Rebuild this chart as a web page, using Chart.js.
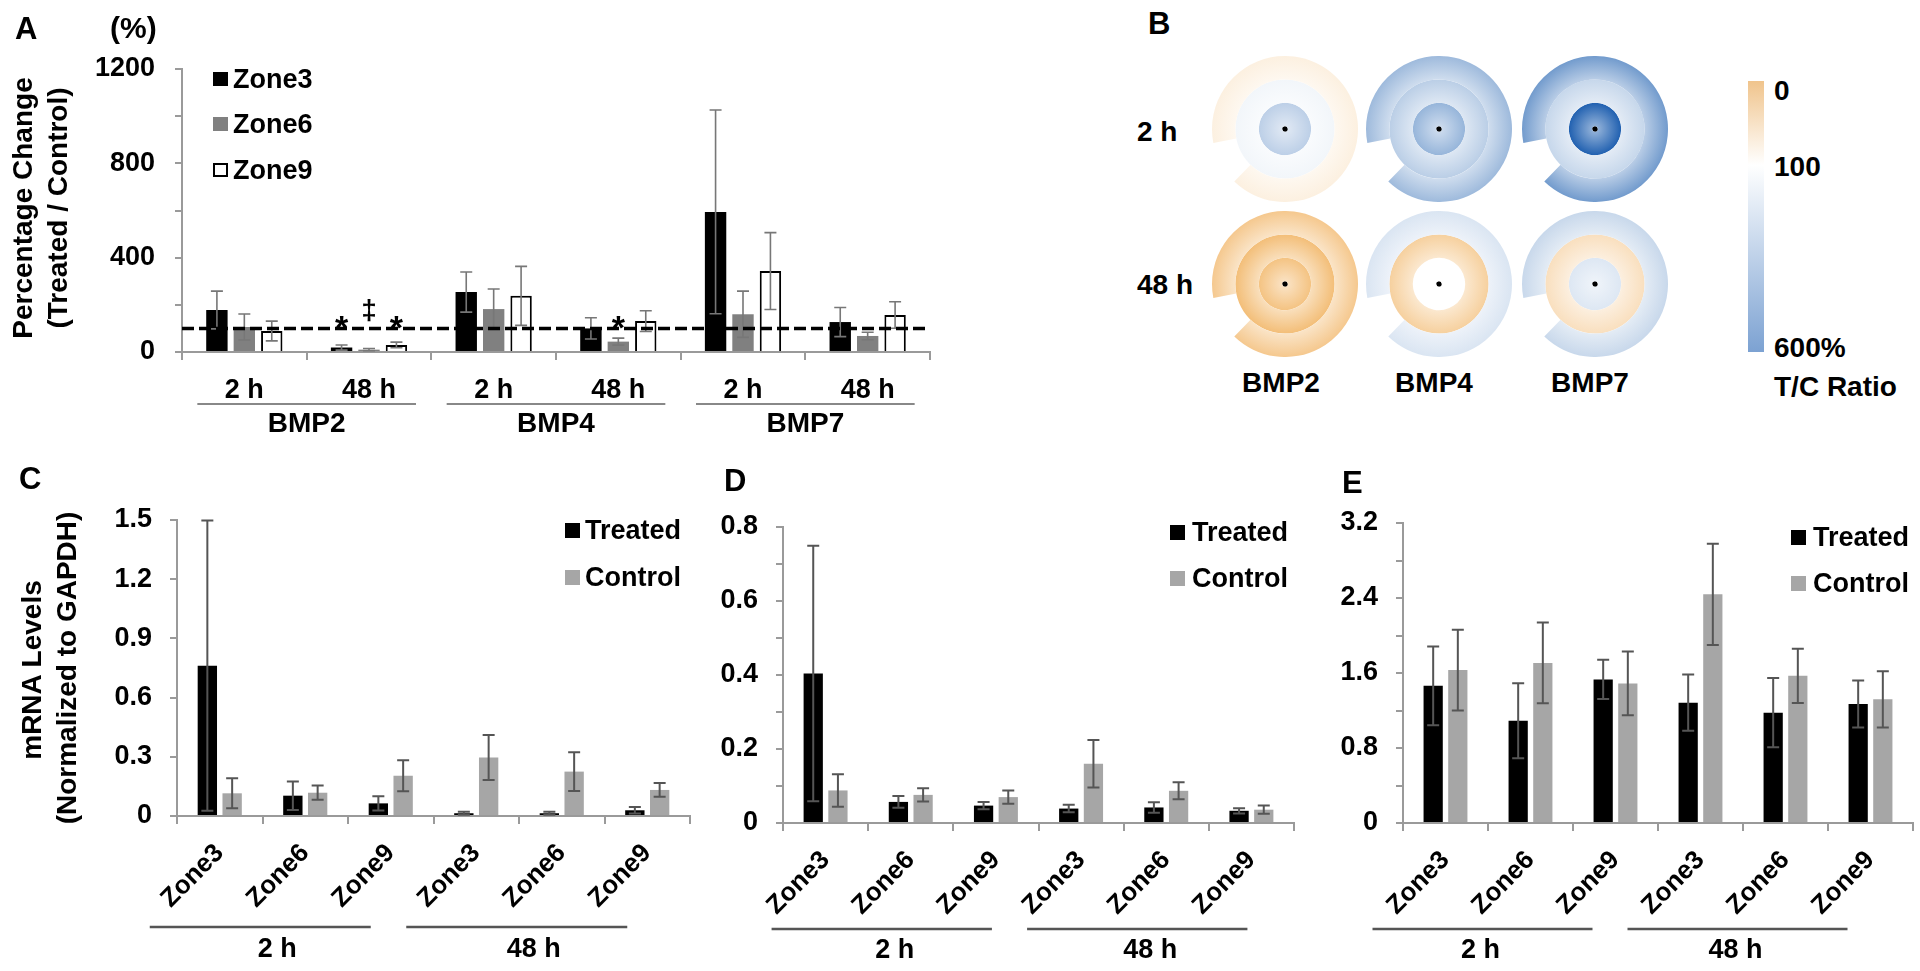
<!DOCTYPE html>
<html>
<head>
<meta charset="utf-8">
<script src="https://cdn.jsdelivr.net/npm/chart.js@4.4.1/dist/chart.umd.min.js"></script>
<style>
  html, body { margin: 0; padding: 0; background: #fff; }
  body { position: relative; width: 1920px; height: 971px; overflow: hidden;
         font-family: "Liberation Sans", Arial, Helvetica, sans-serif; font-weight: bold; color: #000; }
  .pane { position: absolute; }
  .pane canvas { display: block; }
  .txt { position: absolute; white-space: nowrap; line-height: 1; }
  .sq { position: absolute; box-sizing: border-box; }
</style>
</head>
<body>
<script>
// ---------- Panel A : percentage change (treated / control)
const aTimes = ["2 h", "48 h", "2 h", "48 h", "2 h", "48 h"];
const aGroups = ["BMP2", "BMP4", "BMP7"];
const aZone3 = [178, 19, 254, 100, 594, 127];
const aZone3Err = [80, 11, 85, 45, 432, 62];
const aZone6 = [106, 10, 182, 44, 160, 68];
const aZone6Err = [55, 5, 85, 15, 98, 16];
const aZone9 = [89, 30, 238, 131, 343, 157];
const aZone9Err = [42, 12, 125, 44, 163, 56];
const aTicks = ["0", "400", "800", "1200"];
const aMarks = [[1, 0, "*"], [1, 1, "‡"], [1, 2, "*"], [3, 1, "*"]]; // [category, series, symbol]

// ---------- Panel B : T/C ratio maps (rings from centre out: Zone3, Zone6, Zone9, same values as A)
const bDrugs = ["BMP2", "BMP4", "BMP7"];
const bTimes = ["2 h", "48 h"];
const bScale = ["0", "100", "600%"];

// ---------- Panels C, D, E : mRNA levels (normalized to GAPDH)
const zones = ["Zone3", "Zone6", "Zone9", "Zone3", "Zone6", "Zone9"];
const times = ["2 h", "48 h"];

const cTreated = [0.762, 0.103, 0.064, 0.014, 0.014, 0.029];
const cTreatedErr = [0.735, 0.072, 0.036, 0.008, 0.008, 0.016];
const cControl = [0.115, 0.118, 0.204, 0.296, 0.225, 0.132];
const cControlErr = [0.076, 0.036, 0.078, 0.114, 0.098, 0.035];
const cTicks = ["0", "0.3", "0.6", "0.9", "1.2", "1.5"];

const dTreated = [0.404, 0.057, 0.047, 0.039, 0.042, 0.033];
const dTreatedErr = [0.345, 0.016, 0.010, 0.010, 0.014, 0.007];
const dControl = [0.088, 0.076, 0.070, 0.160, 0.087, 0.036];
const dControlErr = [0.044, 0.018, 0.018, 0.064, 0.023, 0.011];
const dTicks = ["0", "0.2", "0.4", "0.6", "0.8"];

const eTreated = [1.464, 1.091, 1.532, 1.283, 1.177, 1.269];
const eTreatedErr = [0.42, 0.40, 0.21, 0.30, 0.37, 0.25];
const eControl = [1.631, 1.708, 1.489, 2.439, 1.570, 1.319];
const eControlErr = [0.43, 0.43, 0.34, 0.54, 0.29, 0.30];
const eTicks = ["0", "0.8", "1.6", "2.4", "3.2"];

const FONT = '"Liberation Sans", Arial, Helvetica, sans-serif';
const AXIS = "#9a9a9a";
Chart.defaults.font.family = FONT;
Chart.defaults.font.weight = "bold";
Chart.defaults.font.size = 27;
Chart.defaults.color = "#000";

function pane(left, top, w, h) {
  const d = document.createElement("div");
  d.className = "pane";
  d.style.left = left + "px";
  d.style.top = top + "px";
  const c = document.createElement("canvas");
  c.width = w;
  c.height = h;
  d.appendChild(c);
  document.body.appendChild(d);
  return c;
}

function text(str, x, y, size, align, rotate) {
  const s = document.createElement("div");
  s.className = "txt";
  s.textContent = str;
  s.style.fontSize = size + "px";
  s.style.left = x + "px";
  s.style.top = y + "px";
  const tx = align === "center" ? "-50%" : align === "right" ? "-100%" : "0";
  s.style.transform = "translate(" + tx + ", -50%)" + (rotate ? " rotate(" + rotate + "deg)" : "");
  document.body.appendChild(s);
}

function square(x, yc, w, h, fill, border) {
  const s = document.createElement("div");
  s.className = "sq";
  s.style.left = x + "px";
  s.style.top = (yc - h / 2) + "px";
  s.style.width = w + "px";
  s.style.height = h + "px";
  s.style.background = fill;
  if (border) s.style.border = border;
  document.body.appendChild(s);
}

function tickCb(list) {
  return (v) => {
    const s = String(+(+v).toFixed(2));
    return list.includes(s) ? s : "";
  };
}

function errorBars(id, errs, color, width, cap) {
  return {
    id: id,
    afterDatasetsDraw(chart) {
      const ctx = chart.ctx, y = chart.scales.y;
      ctx.save();
      ctx.strokeStyle = color;
      ctx.lineWidth = width;
      errs.forEach((err, di) => {
        const vals = chart.data.datasets[di].data;
        chart.getDatasetMeta(di).data.forEach((bar, i) => {
          const hi = y.getPixelForValue(vals[i] + err[i]);
          const lo = y.getPixelForValue(Math.max(vals[i] - err[i], 0));
          ctx.beginPath();
          ctx.moveTo(bar.x, hi); ctx.lineTo(bar.x, lo);
          ctx.moveTo(bar.x - cap / 2, hi); ctx.lineTo(bar.x + cap / 2, hi);
          ctx.moveTo(bar.x - cap / 2, lo); ctx.lineTo(bar.x + cap / 2, lo);
          ctx.stroke();
        });
      });
      ctx.restore();
    }
  };
}

function groupAxis(id, names, size, from, to, shift, lineDy, labelDy, color, lw, fs) {
  return {
    id: id,
    afterDraw(chart) {
      const ctx = chart.ctx, x = chart.scales.x, base = chart.chartArea.bottom;
      ctx.save();
      ctx.strokeStyle = color;
      ctx.lineWidth = lw;
      ctx.fillStyle = "#000";
      ctx.font = "bold " + fs + "px " + FONT;
      ctx.textAlign = "center";
      ctx.textBaseline = "middle";
      names.forEach((name, g) => {
        const first = x.getPixelForValue(g * size);
        const last = x.getPixelForValue(g * size + size - 1);
        ctx.beginPath();
        ctx.moveTo(first + from, base + lineDy);
        ctx.lineTo(last + to, base + lineDy);
        ctx.stroke();
        ctx.fillText(name, (first + last) / 2 + shift, base + labelDy);
      });
      ctx.restore();
    }
  };
}

// dashed 100 % line and significance marks for panel A
const refLine = {
  id: "refLine",
  afterDatasetsDraw(chart) {
    const ctx = chart.ctx, a = chart.chartArea, y = chart.scales.y.getPixelForValue(100);
    ctx.save();
    ctx.strokeStyle = "#000";
    ctx.lineWidth = 3.5;
    ctx.setLineDash([12, 5]);
    ctx.beginPath();
    ctx.moveTo(a.left, y);
    ctx.lineTo(a.right, y);
    ctx.stroke();
    ctx.restore();
  }
};
const sigMarks = {
  id: "sigMarks",
  afterDatasetsDraw(chart) {
    const ctx = chart.ctx, base = chart.chartArea.bottom;
    ctx.save();
    ctx.fillStyle = "#000";
    ctx.textAlign = "center";
    ctx.textBaseline = "alphabetic";
    aMarks.forEach(([cat, ds, sym]) => {
      const bar = chart.getDatasetMeta(ds).data[cat];
      if (sym === "*") {
        ctx.font = "bold 34px " + FONT;
        ctx.fillText(sym, bar.x, base - 32 + 19);
      } else {
        ctx.font = "bold 28px " + FONT;
        ctx.fillText(sym, bar.x, base - 40 + 7);
      }
    });
    ctx.restore();
  }
};

function axisOpts(extra) {
  return Object.assign({
    grid: { drawOnChartArea: false, color: AXIS, lineWidth: 2 },
    border: { color: AXIS, width: 2 }
  }, extra);
}

// ---------- Panel A chart
new Chart(pane(0, 0, 950, 450), {
  type: "bar",
  data: {
    labels: aTimes,
    datasets: [
      { label: "Zone3", data: aZone3, backgroundColor: "#000" },
      { label: "Zone6", data: aZone6, backgroundColor: "#808080" },
      { label: "Zone9", data: aZone9, backgroundColor: "#fff", borderColor: "#000", borderWidth: 2 }
    ]
  },
  options: {
    responsive: false, animation: false, events: [],
    categoryPercentage: 0.66, barPercentage: 0.78,
    layout: { padding: { top: 69, right: 20, left: 0, bottom: 38 } },
    plugins: { legend: { display: false }, tooltip: { enabled: false } },
    scales: {
      x: axisOpts({
        grid: { drawOnChartArea: false, color: AXIS, lineWidth: 2, tickLength: 8 },
        ticks: { autoSkip: false, maxRotation: 0, padding: 14 },
        afterFit: (s) => { s.height = 60; }
      }),
      y: axisOpts({
        min: 0, max: 1200,
        grid: { drawOnChartArea: false, color: AXIS, lineWidth: 2, tickLength: 7 },
        ticks: { stepSize: 200, padding: 20, callback: tickCb(aTicks) },
        afterFit: (s) => { s.width = 182; }
      })
    }
  },
  plugins: [
    errorBars("errA", [aZone3Err, aZone6Err, aZone9Err], "#777", 1.6, 12),
    refLine, sigMarks,
    groupAxis("grpA", aGroups, 2, -47, 47, 0, 52, 72, "#888", 2, 28)
  ]
});

text("A", 15, 28, 31, "left");
text("(%)", 110, 28, 30, "left");
text("Percentage Change", 23, 208, 28, "center", -90);
text("(Treated / Control)", 58, 208, 28, "center", -90);
square(213, 79, 15, 14, "#000");
square(213, 124, 15, 14, "#808080");
square(213, 170, 15, 14, "#fff", "2px solid #000");
text("Zone3", 233, 79, 27, "left");
text("Zone6", 233, 124, 27, "left");
text("Zone9", 233, 170, 27, "left");

// ---------- Panel B : ring maps drawn as doughnuts
const ORANGE = [242, 185, 110], BLUE = [30, 95, 175];
const DOT = 0.12, GAP = 35;
function tcColor(p) {
  if (p <= 100) {
    const f = Math.pow(1 - p / 100, 0.7);
    return ORANGE.map((c) => Math.round(255 + (c - 255) * f));
  }
  const f = Math.pow(Math.min((p - 100) / 500, 1), 0.65);
  return BLUE.map((c) => Math.round(255 + (c - 255) * f));
}
function rgb(c) { return "rgb(" + c.join(",") + ")"; }
function ringFill(p, ring, gapIndex) {
  return (c) => {
    if (c.dataIndex === gapIndex) return "rgba(0,0,0,0)";
    const col = tcColor(p);
    const a = c.chart.chartArea;
    if (!a) return rgb(col);
    const cx = (a.left + a.right) / 2, cy = (a.top + a.bottom) / 2;
    const R = Math.min(a.right - a.left, a.bottom - a.top) / 2;
    const unit = R / (3 + DOT);
    const r1 = R - unit * ring, r0 = Math.max(r1 - unit, 0);
    const g = c.chart.ctx.createRadialGradient(cx, cy, r0, cx, cy, r1);
    g.addColorStop(0, rgb(col.map((v) => Math.round(v + (255 - v) * 0.5))));
    g.addColorStop(1, rgb(col));
    return g;
  };
}

const bCx = [1285, 1438.5, 1594.5], bCy = [129, 284], bR = 73;
bDrugs.forEach((drug, d) => {
  bTimes.forEach((t, ti) => {
    const i = d * 2 + ti;
    new Chart(pane(bCx[d] - bR, bCy[ti] - bR, bR * 2, bR * 2), {
      type: "doughnut",
      data: {
        labels: ["zone", "gap"],
        datasets: [
          { data: [360 - GAP, GAP], weight: 1, backgroundColor: ringFill(aZone9[i], 0, 1) },
          { data: [360], weight: 1, backgroundColor: ringFill(aZone6[i], 1, -1) },
          { data: [360], weight: 1, backgroundColor: ringFill(aZone3[i], 2, -1) },
          { data: [360], weight: DOT, backgroundColor: "#000" }
        ]
      },
      options: {
        responsive: false, animation: false, events: [],
        rotation: 259, cutout: 0,
        borderWidth: 0, offset: 0, hoverOffset: 0, spacing: 0,
        plugins: { legend: { display: false }, tooltip: { enabled: false } }
      }
    });
  });
});

text("B", 1148, 23, 31, "left");
text(bTimes[0], 1137, 132, 28, "left");
text(bTimes[1], 1137, 285, 28, "left");
text(bDrugs[0], 1281, 383, 28, "center");
text(bDrugs[1], 1434, 383, 28, "center");
text(bDrugs[2], 1590, 383, 28, "center");
const bar = document.createElement("div");
bar.style.cssText = "position:absolute;left:1748px;top:81px;width:16px;height:271px;" +
  "background:linear-gradient(to bottom, rgb(240,196,140) 0%, #fff 31%, rgb(124,162,210) 100%);";
document.body.appendChild(bar);
text(bScale[0], 1774, 91, 28, "left");
text(bScale[1], 1774, 167, 28, "left");
text(bScale[2], 1774, 348, 28, "left");
text("T/C Ratio", 1774, 387, 28, "left");

// ---------- Panels C, D, E
function mrnaChart(id, box, treated, tErr, control, cErr, max, step, ticks, pad, yWidth, grp) {
  return new Chart(pane(box[0], box[1], box[2], box[3]), {
    type: "bar",
    data: {
      labels: zones,
      datasets: [
        { label: "Treated", data: treated, backgroundColor: "#000" },
        { label: "Control", data: control, backgroundColor: "#a6a6a6" }
      ]
    },
    options: {
      responsive: false, animation: false, events: [],
      categoryPercentage: 0.58, barPercentage: 0.78,
      layout: { padding: pad },
      plugins: { legend: { display: false }, tooltip: { enabled: false } },
      scales: {
        x: axisOpts({
          grid: { drawOnChartArea: false, color: AXIS, lineWidth: 2, tickLength: 8 },
          ticks: { autoSkip: false, minRotation: 45, maxRotation: 45, padding: 14, font: { size: 26 } },
          afterFit: (s) => { s.height = 100; }
        }),
        y: axisOpts({
          min: 0, max: max,
          grid: { drawOnChartArea: false, color: AXIS, lineWidth: 2, tickLength: 7 },
          ticks: { stepSize: step, padding: 18, callback: tickCb(ticks) },
          afterFit: (s) => { s.width = yWidth; }
        })
      }
    },
    plugins: [
      errorBars("err" + id, [tErr, cErr], "#555", 2, 12),
      groupAxis("grp" + id, times, 3, grp[0], grp[1], grp[2], grp[3], grp[4], "#555", 2.5, 27)
    ]
  });
}

// C: axis x 177, top 520, bottom 816, right 690
mrnaChart("C", [0, 460, 700, 511], cTreated, cTreatedErr, cControl, cControlErr, 1.5, 0.15, cTicks,
  { top: 60, right: 10, left: 0, bottom: 55 }, 177, [-70, -20, -28, 111, 134]);
// D: axis x 783, top 527, bottom 823, right 1294
mrnaChart("D", [700, 460, 610, 511], dTreated, dTreatedErr, dControl, dControlErr, 0.8, 0.1, dTicks,
  { top: 67, right: 16, left: 0, bottom: 48 }, 83, [-54, -4, -16, 106, 128]);
// E: axis x 1403, top 523, bottom 823, right 1912
mrnaChart("E", [1310, 460, 610, 511], eTreated, eTreatedErr, eControl, eControlErr, 3.2, 0.4, eTicks,
  { top: 63, right: 7, left: 0, bottom: 48 }, 93, [-73, -23, -50, 106, 128]);

text("C", 19, 478, 31, "left");
text("D", 724, 480, 31, "left");
text("E", 1342, 482, 31, "left");
text("mRNA Levels", 32, 670, 28, "center", -90);
text("(Normalized to GAPDH)", 67, 668, 28, "center", -90);

[[565, 585, 530, 577], [1170, 1192, 532, 578], [1791, 1813, 537, 583]].forEach(([sx, tx, y1, y2]) => {
  square(sx, y1, 15, 15, "#000");
  square(sx, y2, 15, 15, "#a6a6a6");
  text("Treated", tx, y1, 27, "left");
  text("Control", tx, y2, 27, "left");
});
</script>
</body>
</html>
